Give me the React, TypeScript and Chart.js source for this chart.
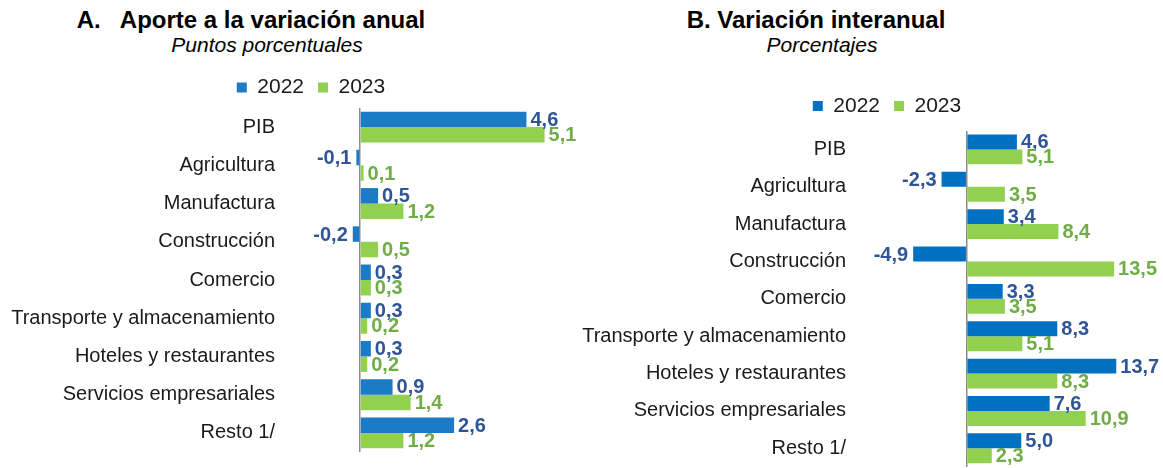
import React, { useEffect, useRef } from 'react';
import { Chart, registerables } from 'chart.js';

Chart.register(...registerables);

const categories = [
  'PIB',
  'Agricultura',
  'Manufactura',
  'Construcción',
  'Comercio',
  'Transporte y almacenamiento',
  'Hoteles y restaurantes',
  'Servicios empresariales',
  'Resto 1/',
];
const seriesLabels = ['2022', '2023'];
const aporte2022 = [4.6, -0.1, 0.5, -0.2, 0.3, 0.3, 0.3, 0.9, 2.6];
const aporte2023 = [5.1, 0.1, 1.2, 0.5, 0.3, 0.2, 0.2, 1.4, 1.2];
const variacion2022 = [4.6, -2.3, 3.4, -4.9, 3.3, 8.3, 13.7, 7.6, 5.0];
const variacion2023 = [5.1, 3.5, 8.4, 13.5, 3.5, 5.1, 8.3, 10.9, 2.3];

const FONT = "'Liberation Sans', Arial, Helvetica, sans-serif";
const GREEN = '#92D050';
const BLUE_LABEL = '#2F5597';
const GREEN_LABEL = '#70AD47';

type Params = {
  d1: number[];
  d2: number[];
  blue: string;
  width: number;
  height: number;
  padTop: number;
  padBottom: number;
  min: number;
  max: number;
  axisWidth: number;
  tickPad: number;
  catPct: number;
  topGap: number;
};

const valueLabels = {
  id: 'valueLabels',
  afterDatasetsDraw(chart: any) {
    const ctx = chart.ctx;
    ctx.save();
    ctx.font = `bold 20px ${FONT}`;
    ctx.textBaseline = 'middle';
    chart.data.datasets.forEach((ds: any, di: number) => {
      const meta = chart.getDatasetMeta(di);
      ctx.fillStyle = di === 0 ? BLUE_LABEL : GREEN_LABEL;
      meta.data.forEach((el: any, i: number) => {
        const v = ds.data[i] as number;
        const txt = v.toFixed(1).replace('.', ',');
        if (v >= 0) {
          ctx.textAlign = 'left';
          ctx.fillText(txt, el.x + 4, el.y + 1);
        } else {
          ctx.textAlign = 'right';
          ctx.fillText(txt, el.x - 5, el.y + 1);
        }
      });
    });
    ctx.restore();
  },
};

function BarChart(p: Params) {
  const ref = useRef<HTMLCanvasElement | null>(null);
  useEffect(() => {
    if (!ref.current) return;
    const chart = new Chart(ref.current, {
      type: 'bar',
      data: {
        labels: categories,
        datasets: [
          {
            label: seriesLabels[0],
            data: p.d1,
            backgroundColor: p.blue,
            borderWidth: 0,
            categoryPercentage: p.catPct,
            barPercentage: 1,
          },
          {
            label: seriesLabels[1],
            data: p.d2,
            backgroundColor: GREEN,
            borderWidth: 0,
            categoryPercentage: p.catPct,
            barPercentage: 1,
          },
        ],
      },
      options: {
        indexAxis: 'y',
        animation: false,
        responsive: false,
        maintainAspectRatio: false,
        layout: {
          padding: { left: 0, right: 0, top: p.padTop, bottom: p.padBottom },
        },
        plugins: {
          legend: {
            display: true,
            position: 'top',
            labels: {
              boxWidth: 10,
              boxHeight: 10,
              padding: 14,
              color: '#1a1a1a',
              font: { family: FONT, size: 21 },
            },
          },
          tooltip: { enabled: false },
          title: { display: false },
        },
        scales: {
          x: {
            type: 'linear',
            position: 'top',
            min: p.min,
            max: p.max,
            ticks: { display: false, stepSize: 1 },
            grid: {
              drawTicks: false,
              lineWidth: 1.5,
              color: (c: any) => (c.tick && c.tick.value === 0 ? '#8c8c8c' : 'rgba(0,0,0,0)'),
            },
            border: { display: false },
            title: {
              display: p.topGap > 0,
              text: '',
              font: { size: 1 },
              padding: { top: 0, bottom: p.topGap },
            },
          },
          y: {
            ticks: {
              color: '#1a1a1a',
              padding: p.tickPad,
              font: { family: FONT, size: 20 },
            },
            grid: { display: false, drawTicks: false },
            border: { display: false },
            afterFit: (s: any) => {
              s.width = p.axisWidth;
              s.paddingTop = 0;
              s.paddingBottom = 0;
            },
          },
        },
      },
      plugins: [valueLabels],
    } as any);
    return () => chart.destroy();
  }, []);
  return (
    <canvas
      ref={ref}
      width={p.width}
      height={p.height}
      style={{ width: p.width, height: p.height, display: 'block' }}
    />
  );
}

const titleStyle: React.CSSProperties = {
  position: 'absolute',
  width: 600,
  textAlign: 'center',
  fontFamily: FONT,
  fontWeight: 'bold',
  fontSize: 24,
  lineHeight: '24px',
  whiteSpace: 'pre',
  color: '#000',
};
const subStyle: React.CSSProperties = {
  position: 'absolute',
  width: 600,
  textAlign: 'center',
  fontFamily: FONT,
  fontStyle: 'italic',
  fontSize: 21,
  lineHeight: '22px',
  whiteSpace: 'pre',
  color: '#000',
};

export default function App() {
  return (
    <div
      style={{
        position: 'fixed',
        left: 0,
        top: 0,
        width: 1163,
        height: 468,
        background: '#fff',
        overflow: 'hidden',
      }}
    >
      <div style={{ ...titleStyle, left: 251 - 300, top: 8 }}>{'A.   Aporte a la variación anual'}</div>
      <div style={{ ...subStyle, left: 267 - 300, top: 34 }}>Puntos porcentuales</div>
      <div style={{ ...titleStyle, left: 816 - 300, top: 8 }}>B. Variación interanual</div>
      <div style={{ ...subStyle, left: 822 - 300, top: 34 }}>Porcentajes</div>
      <div style={{ position: 'absolute', left: 0, top: 0 }}>
        <BarChart
          d1={aporte2022}
          d2={aporte2023}
          blue="#1B7BC6"
          width={622}
          height={468}
          padTop={63}
          padBottom={16}
          min={-1.52}
          max={7.24}
          axisWidth={305}
          tickPad={30}
          catPct={0.81}
          topGap={0}
        />
      </div>
      <div style={{ position: 'absolute', left: 580, top: 0 }}>
        <BarChart
          d1={variacion2022}
          d2={variacion2023}
          blue="#0070C0"
          width={614}
          height={468}
          padTop={81.5}
          padBottom={1}
          min={-8.03}
          max={20.82}
          axisWidth={299}
          tickPad={33}
          catPct={0.8}
          topGap={3}
        />
      </div>
    </div>
  );
}
